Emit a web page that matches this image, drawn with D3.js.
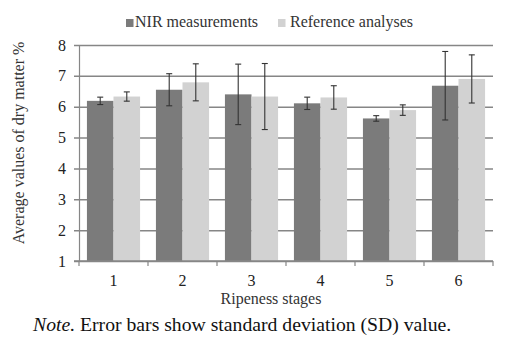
<!DOCTYPE html>
<html><head><meta charset="utf-8">
<script src="https://cdn.jsdelivr.net/npm/d3@7"></script>
<style>body{margin:0;background:#fff}svg{display:block}</style>
</head><body>
<svg id="c" width="520" height="338"></svg>
<script>
const categories = ["1","2","3","4","5","6"];
const seriesNames = ["NIR measurements","Reference analyses"];
const nirMeans = [6.19, 6.55, 6.40, 6.11, 5.62, 6.68];
const nirSD    = [0.12, 0.52, 0.98, 0.20, 0.09, 1.11];
const refMeans = [6.33, 6.79, 6.33, 6.30, 5.89, 6.90];
const refSD    = [0.15, 0.60, 1.07, 0.38, 0.17, 0.78];
const yTicks = [1,2,3,4,5,6,7,8];

const colors = ["#7b7b7b", "#d2d2d2"];
const FF = '"Liberation Serif"';
const svg = d3.select("#c");
const m = {l:79, r:493, t:45, b:261};

const x = d3.scaleBand().domain(categories).range([m.l, m.r]).paddingInner(0.23).paddingOuter(0.115);
const xs = d3.scaleBand().domain(seriesNames).range([0, x.bandwidth()]);
const y = d3.scaleLinear().domain([1, 8]).range([m.b, m.t]);

// gridlines + y ticks
svg.append("g").attr("transform", `translate(${m.l},0)`)
  .call(d3.axisLeft(y).tickValues(yTicks).tickFormat(d3.format("d"))
        .tickSize(-(m.r - m.l)).tickSizeOuter(0).tickPadding(13))
  .call(g => g.select(".domain").attr("stroke", "#868686").attr("stroke-width", 1.2))
  .call(g => g.selectAll(".tick line").attr("stroke", "#868686").attr("stroke-width", 1.5).attr("x1", -5))
  .call(g => g.selectAll(".tick text").style("font-family", FF).style("font-size", "16px").attr("fill", "#222"));

const data = categories.map((c, i) => [
  {cat: c, s: seriesNames[0], v: nirMeans[i], sd: nirSD[i]},
  {cat: c, s: seriesNames[1], v: refMeans[i], sd: refSD[i]}
]).flat();

svg.append("g").selectAll("rect").data(data).join("rect")
  .attr("x", d => x(d.cat) + xs(d.s))
  .attr("width", xs.bandwidth())
  .attr("y", d => y(d.v))
  .attr("height", d => y(1) - y(d.v))
  .attr("fill", d => d.s === seriesNames[0] ? colors[0] : colors[1]);

// x axis
svg.append("g").attr("transform", `translate(0,${m.b})`)
  .call(d3.axisBottom(x).tickSize(0).tickPadding(14))
  .call(g => g.select(".domain").remove())
  .call(g => g.selectAll(".tick text").style("font-family", FF).style("font-size", "16px").attr("fill", "#222"));
const xa = svg.append("g");
xa.append("line").attr("x1", m.l - 5).attr("x2", m.r).attr("y1", m.b).attr("y2", m.b)
  .attr("stroke", "#868686").attr("stroke-width", 1.5);
const bounds = categories.map(c => x(c) - x.step() * x.paddingInner() / 2).concat([m.r]);
xa.selectAll("line.t").data(bounds).join("line").attr("class", "t")
  .attr("x1", d => d).attr("x2", d => d).attr("y1", m.b).attr("y2", m.b + 5)
  .attr("stroke", "#868686").attr("stroke-width", 1.2);

// error bars
const eb = svg.append("g").attr("stroke", "#333").attr("stroke-width", 1.1);
data.forEach(d => {
  const cx = x(d.cat) + xs(d.s) + xs.bandwidth() / 2;
  const y1 = y(d.v + d.sd), y2 = y(d.v - d.sd);
  eb.append("line").attr("x1", cx).attr("x2", cx).attr("y1", y1).attr("y2", y2);
  eb.append("line").attr("x1", cx - 3).attr("x2", cx + 3).attr("y1", y1).attr("y2", y1);
  eb.append("line").attr("x1", cx - 3).attr("x2", cx + 3).attr("y1", y2).attr("y2", y2);
});

// legend
const lg = svg.append("g");
const lx = [126, 278];
seriesNames.forEach((s, i) => {
  lg.append("rect").attr("x", lx[i]).attr("y", 19).attr("width", 7.5).attr("height", 8).attr("fill", colors[i]);
  lg.append("text").attr("x", lx[i] + 9 + (i ? 3 : 0)).attr("y", 27).text(s)
    .style("font-family", FF).style("font-size", "16px").attr("fill", "#333");
});

// axis titles
svg.append("text").attr("x", (m.l + m.r) / 2 - 15).attr("y", 304).attr("text-anchor", "middle")
  .style("font-family", FF).style("font-size", "16px").attr("fill", "#333").text("Ripeness stages");
svg.append("text").attr("transform", "translate(24,143) rotate(-90)").attr("text-anchor", "middle")
  .style("font-family", FF).style("font-size", "16px").attr("fill", "#333").text("Average values of dry matter %");

// note
const note = svg.append("text").attr("x", 33).attr("y", 331)
  .style("font-family", FF).style("font-size", "19.7px").attr("fill", "#111");
note.append("tspan").style("font-style", "italic").text("Note.");
note.append("tspan").text(" Error bars show standard deviation (SD) value.");
</script>
</body></html>
